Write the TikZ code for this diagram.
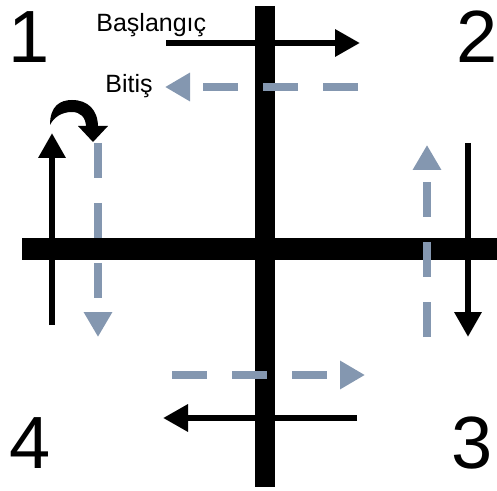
\documentclass[tikz,border=0pt]{standalone}
\usepackage{fontspec}
\setmainfont{Liberation Sans}
\usetikzlibrary{arrows.meta}
\definecolor{slate}{HTML}{8497B0}

\begin{document}
\begin{tikzpicture}[x=0.5pt,y=-0.5pt,
      bar/.style={line width=10pt},
      hbar/.style={line width=11pt},
      yol/.style={line width=3.25pt,-{Triangle[length=12.5pt,width=13pt]}},
      donus/.style={color=slate,line width=3.75pt,dash pattern=on 17.5pt off 12.5pt,
                    -{Triangle[length=12.5pt,width=13.5pt]}},
      num/.style={font=\fontsize{37}{40}\selectfont,inner sep=0pt,anchor=base},
      lbl/.style={font=\fontsize{12.5}{15}\selectfont,inner sep=0pt,anchor=base west}]
    \useasboundingbox (0,0) rectangle (497,491);
    \coordinate (vtop) at (265,6);
    \coordinate (vbot) at (265,487);
    \coordinate (hlft) at (22,249);
    \coordinate (hrgt) at (497,249);
    \draw[bar] (vtop)--(vbot);
    \draw[hbar] (hlft)--(hrgt);
    \node[num] (n1) at (29,63) {1};
    \node[num] (n2) at (477,63) {2};
    \node[num] (n3) at (472,468) {3};
    \node[num] (n4) at (30,468) {4};
    \node[lbl] (bas) at (96,32) {Başlangıç};
    \node[lbl] (bit) at (105,93) {Bitiş};
    \coordinate (a1) at (166,43);  \coordinate (b1) at (360,43);
    \coordinate (a2) at (468,143); \coordinate (b2) at (468,337);
    \coordinate (a3) at (357,418); \coordinate (b3) at (163,418);
    \coordinate (a4) at (52,325);  \coordinate (b4) at (52,133);
    \coordinate (c1) at (98,143);  \coordinate (d1) at (98,337);
    \coordinate (c2) at (172,375); \coordinate (d2) at (365,375);
    \coordinate (c3) at (427,337); \coordinate (d3) at (427,145);
    \coordinate (c4) at (358,87);  \coordinate (d4) at (165,87);
    \draw[yol] (a1)--(b1);
    \draw[yol] (a2)--(b2);
    \draw[yol] (a3)--(b3);
    \draw[yol] (a4)--(b4);
    \fill (50,125) .. controls (50,106) and (60,100) .. (72,100)
      .. controls (88,100) and (98,110) .. (98,127) -- (86,127)
      .. controls (86,117) and (80,112) .. (72,112)
      .. controls (62,112) and (54,117) .. cycle;
    \fill (78,126) -- (108,126) -- (93,142) -- cycle;
    \draw[donus] (c1)--(d1);
    \draw[donus] (c2)--(d2);
    \draw[donus] (c3)--(d3);
    \draw[donus] (c4)--(d4);
  \end{tikzpicture}
\end{document}
